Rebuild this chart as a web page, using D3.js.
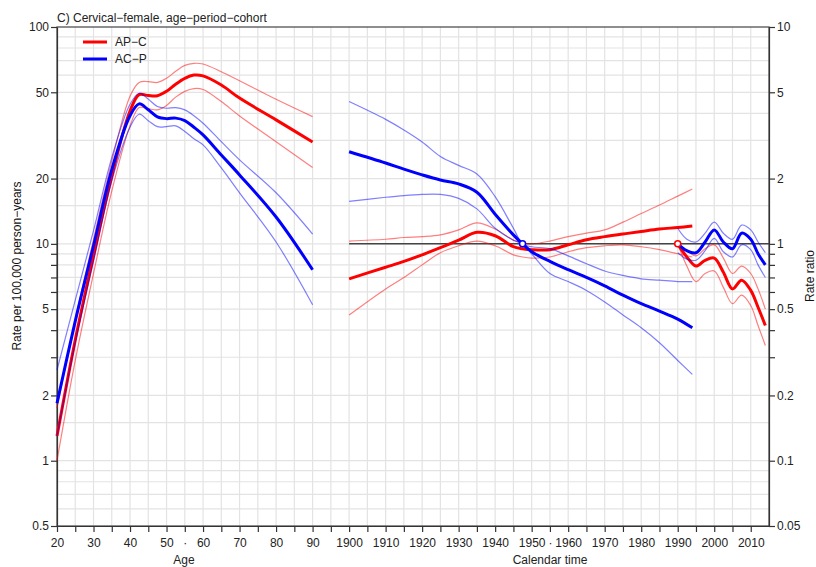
<!DOCTYPE html>
<html>
<head>
<meta charset="utf-8">
<script src="https://cdn.jsdelivr.net/npm/d3@7"></script>
<style>
  body { margin: 0; background: #fff; }
  svg text { font-family: "Liberation Sans", Arial, sans-serif; }
</style>
</head>
<body>
<div id="chart"></div>
<script>
// age part (rates per 100,000)
var ages = [20, 25, 30, 35, 40, 42.5, 45, 47.5, 50, 52.5, 55, 57.5, 60, 65, 70, 80, 90];
var apcAge   = [1.3, 3.6, 8.8, 20.5, 41, 48.8, 48.3, 48.2, 50.5, 54.5, 58, 60, 59.5, 54, 47, 37.3, 29.5];
var apcAgeHi = [1.75, 4.5, 10.5, 24, 48, 55.5, 56, 55.5, 58, 62.5, 66.5, 68, 67.5, 62.2, 56.5, 46.4, 38.6];
var apcAgeLo = [1.0, 2.9, 7.3, 17.5, 35, 42.5, 42, 41.5, 43.5, 47.5, 50.5, 52, 51.5, 45.3, 38.9, 29.6, 22.5];
var acpAge   = [1.84, 4.4, 9.8, 22, 39, 44.2, 41.5, 38.5, 37.8, 38, 37, 34.5, 31.8, 25.7, 20.8, 13.3, 7.6];
var acpAgeHi = [2.62, 5.5, 11.5, 25, 44, 49.5, 46.5, 43, 42.2, 42.5, 41.5, 39, 36, 29.6, 24.4, 17.2, 11.1];
var acpAgeLo = [1.3, 3.5, 8.3, 19.5, 34.5, 39.6, 37, 34.7, 34.7, 35, 33, 30.5, 28.6, 22.4, 17.2, 10.2, 5.24];

// cohort part (rate ratios)
var cohorts = [1900, 1910, 1915, 1920, 1925, 1930, 1935, 1940, 1945, 1947.5, 1950, 1955, 1960, 1965, 1970, 1975, 1980, 1985, 1990, 1994];
var apcCoh   = [0.69, 0.78, 0.83, 0.89, 0.96, 1.04, 1.13, 1.09, 0.97, 0.95, 0.94, 0.94, 0.99, 1.045, 1.08, 1.11, 1.14, 1.17, 1.19, 1.21];
var apcCohHi = [1.03, 1.05, 1.07, 1.08, 1.10, 1.16, 1.25, 1.17, 1.04, 1.01, 1.0, 1.03, 1.08, 1.12, 1.16, 1.26, 1.38, 1.51, 1.66, 1.79];
var apcCohLo = [0.47, 0.62, 0.70, 0.80, 0.91, 0.98, 1.03, 0.98, 0.89, 0.87, 0.86, 0.87, 0.92, 0.96, 0.98, 0.99, 0.97, 0.94, 0.90, 0.87];
var acpCoh   = [2.66, 2.36, 2.21, 2.08, 1.97, 1.89, 1.73, 1.37, 1.1, 1.0, 0.92, 0.83, 0.76, 0.70, 0.64, 0.58, 0.53, 0.49, 0.45, 0.41];
var acpCohHi = [4.53, 3.75, 3.35, 2.95, 2.53, 2.3, 2.1, 1.65, 1.18, 1.0, 0.97, 0.95, 0.88, 0.81, 0.75, 0.715, 0.69, 0.68, 0.67, 0.67];
var acpCohLo = [1.57, 1.64, 1.67, 1.69, 1.69, 1.62, 1.45, 1.18, 1.04, 1.0, 0.90, 0.73, 0.67, 0.61, 0.54, 0.47, 0.41, 0.35, 0.29, 0.25];

// period part (rate ratios)
var periods = [1990, 1992.5, 1995, 1997.5, 2000, 2002.5, 2005, 2007.5, 2010, 2012, 2014];
var apcPer   = [1.0, 0.87, 0.79, 0.84, 0.86, 0.74, 0.62, 0.68, 0.61, 0.51, 0.42];
var apcPerHi = [1.0, 0.93, 0.88, 0.95, 0.99, 0.86, 0.73, 0.79, 0.73, 0.62, 0.50];
var apcPerLo = [1.0, 0.79, 0.67, 0.73, 0.75, 0.63, 0.53, 0.58, 0.52, 0.42, 0.34];
var acpPer   = [1.0, 0.93, 0.91, 1.02, 1.16, 1.02, 0.95, 1.12, 1.05, 0.90, 0.80];
var acpPerHi = [1.18, 1.05, 1.02, 1.12, 1.26, 1.12, 1.05, 1.22, 1.16, 1.02, 0.91];
var acpPerLo = [0.91, 0.85, 0.84, 0.93, 1.06, 0.92, 0.87, 0.99, 0.94, 0.80, 0.70];

var refCohort = 1947.5;
var refPeriod = 1990;

var rateTicks = [0.5, 1, 2, 5, 10, 20, 50, 100];
var rateMinor = [3, 4, 6, 7, 8, 9];
var ratioTicks = [0.05, 0.1, 0.2, 0.5, 1, 2, 5, 10];
var ratioMinor = [0.3, 0.4, 0.6, 0.7, 0.8, 0.9];
var rateGrid = [0.6, 0.7, 0.8, 0.9, 1, 1.5, 2, 3, 4, 5, 6, 7, 8, 9, 10, 15, 20, 30, 40, 50, 60, 70, 80, 90];

var width = 816, height = 567;
var plotL = 57, plotR = 769, plotT = 27, plotB = 526;
var yearShift = 1800; // calendar time drawn on the same axis, 1900 sits at "100"

var svg = d3.select("#chart").append("svg")
    .attr("width", width)
    .attr("height", height);

var x = d3.scaleLinear().domain([20, 215]).range([plotL, plotR]);
var yRate = d3.scaleLog().domain([0.5, 100]).range([plotB, plotT]);
var yRatio = d3.scaleLog().domain([0.05, 10]).range([plotB, plotT]);

//网格
var grid = svg.append("g").attr("class", "grid")
    .attr("stroke", "#e3e3e3").attr("stroke-width", 1.2);
grid.selectAll("line.v").data(d3.range(25, 215, 5)).enter().append("line")
    .attr("x1", function (d) { return x(d); }).attr("x2", function (d) { return x(d); })
    .attr("y1", plotT).attr("y2", plotB);
grid.selectAll("line.h").data(rateGrid).enter().append("line")
    .attr("x1", plotL).attr("x2", plotR)
    .attr("y1", function (d) { return yRate(d); }).attr("y2", function (d) { return yRate(d); });

// reference line at rate ratio 1
svg.append("line")
    .attr("x1", x(1900 - yearShift)).attr("x2", plotR)
    .attr("y1", yRatio(1)).attr("y2", yRatio(1))
    .attr("stroke", "#444").attr("stroke-width", 1.5);

// frame
svg.append("rect")
    .attr("x", plotL).attr("y", plotT)
    .attr("width", plotR - plotL).attr("height", plotB - plotT)
    .attr("fill", "none").attr("stroke", "#444").attr("stroke-width", 1.2);

//坐标轴
var fmt = d3.format("~g");
function styleAxis(g) {
    g.selectAll("path").attr("stroke", "#333").attr("stroke-width", 1.2);
    g.selectAll("line").attr("stroke", "#333").attr("stroke-width", 1.2);
    g.selectAll("text").attr("fill", "#222").style("font-size", "12px")
        .style("font-family", "'Liberation Sans', Arial, sans-serif");
}

svg.append("g").attr("transform", "translate(" + plotL + ",0)")
    .call(d3.axisLeft(yRate).tickValues(rateTicks).tickFormat(fmt).tickSize(6).tickPadding(2).tickSizeOuter(0))
    .call(styleAxis);
svg.append("g").attr("transform", "translate(" + plotL + ",0)")
    .call(d3.axisLeft(yRate).tickValues(rateMinor).tickFormat("").tickSize(6).tickSizeOuter(0))
    .call(styleAxis).select("path").remove();

svg.append("g").attr("transform", "translate(" + plotR + ",0)")
    .call(d3.axisRight(yRatio).tickValues(ratioTicks).tickFormat(fmt).tickSize(6).tickPadding(2).tickSizeOuter(0))
    .call(styleAxis);
svg.append("g").attr("transform", "translate(" + plotR + ",0)")
    .call(d3.axisRight(yRatio).tickValues(ratioMinor).tickFormat("").tickSize(6).tickSizeOuter(0))
    .call(styleAxis).select("path").remove();

var xTicks = d3.range(20, 215, 5);
svg.append("g").attr("transform", "translate(0," + plotB + ")")
    .call(d3.axisBottom(x).tickValues(xTicks).tickSize(6).tickPadding(6).tickSizeOuter(0)
        .tickFormat(function (d) {
            if (d % 10 !== 0) return (d === 55 || d === 155) ? "\u00b7" : "";
            if (d <= 90) return d;
            if (d >= 100) return d + yearShift;
            return "";
        }))
    .call(styleAxis);

svg.append("text").attr("x", 184).attr("y", 564).attr("text-anchor", "middle")
    .style("font-size", "12px").attr("fill", "#222").text("Age");
svg.append("text").attr("x", 550).attr("y", 564).attr("text-anchor", "middle")
    .style("font-size", "12px").attr("fill", "#222").text("Calendar time");

svg.append("text").attr("transform", "translate(21,266) rotate(-90)")
    .attr("text-anchor", "middle").style("font-size", "12px").attr("fill", "#111")
    .text("Rate per 100,000 person\u2212years");
svg.append("text").attr("transform", "translate(814,276) rotate(-90)")
    .attr("text-anchor", "middle").style("font-size", "12px").attr("fill", "#111")
    .text("Rate ratio");

svg.append("text").attr("x", plotL).attr("y", 22)
    .style("font-size", "12px").attr("fill", "#222")
    .text("C) Cervical\u2212female, age\u2212period\u2212cohort");

//曲线
function drawCurve(xs, vs, yScale, color, thick, shift) {
    var pts = xs.map(function (d, i) { return [d - shift, vs[i]]; });
    var line = d3.line()
        .x(function (d) { return x(d[0]); })
        .y(function (d) { return yScale(d[1]); })
        .curve(d3.curveCatmullRom.alpha(0.5));
    svg.append("path").datum(pts)
        .attr("d", line)
        .attr("fill", "none")
        .attr("stroke", color)
        .attr("stroke-width", thick ? 3 : 1.2)
        .attr("stroke-opacity", thick ? 1 : 0.5)
        .attr("stroke-linejoin", "round");
}

var red = "#ff0000", blue = "#0000ff";
var series = [
    [ages, [apcAgeLo, apcAgeHi, apcAge], yRate, red, 0],
    [cohorts, [apcCohLo, apcCohHi, apcCoh], yRatio, red, yearShift],
    [periods, [apcPerLo, apcPerHi, apcPer], yRatio, red, yearShift],
    [ages, [acpAgeLo, acpAgeHi, acpAge], yRate, blue, 0],
    [cohorts, [acpCohLo, acpCohHi, acpCoh], yRatio, blue, yearShift],
    [periods, [acpPerLo, acpPerHi, acpPer], yRatio, blue, yearShift]
];
series.forEach(function (s) {
    s[1].forEach(function (vs, i) {
        drawCurve(s[0], vs, s[2], s[3], i === 2, s[4]);
    });
});

// reference points
svg.append("circle")
    .attr("cx", x(refCohort - yearShift)).attr("cy", yRatio(1)).attr("r", 3)
    .attr("fill", "#fff").attr("stroke", blue).attr("stroke-width", 1.5);
svg.append("circle")
    .attr("cx", x(refPeriod - yearShift)).attr("cy", yRatio(1)).attr("r", 3)
    .attr("fill", "#fff").attr("stroke", red).attr("stroke-width", 1.5);

//图例
var legend = svg.append("g");
[["AP\u2212C", red], ["AC\u2212P", blue]].forEach(function (d, i) {
    legend.append("line")
        .attr("x1", 83).attr("x2", 107)
        .attr("y1", 42 + i * 17).attr("y2", 42 + i * 17)
        .attr("stroke", d[1]).attr("stroke-width", 3);
    legend.append("text")
        .attr("x", 115).attr("y", 46 + i * 17)
        .style("font-size", "12px").attr("fill", "#222")
        .text(d[0]);
});
</script>
</body>
</html>
